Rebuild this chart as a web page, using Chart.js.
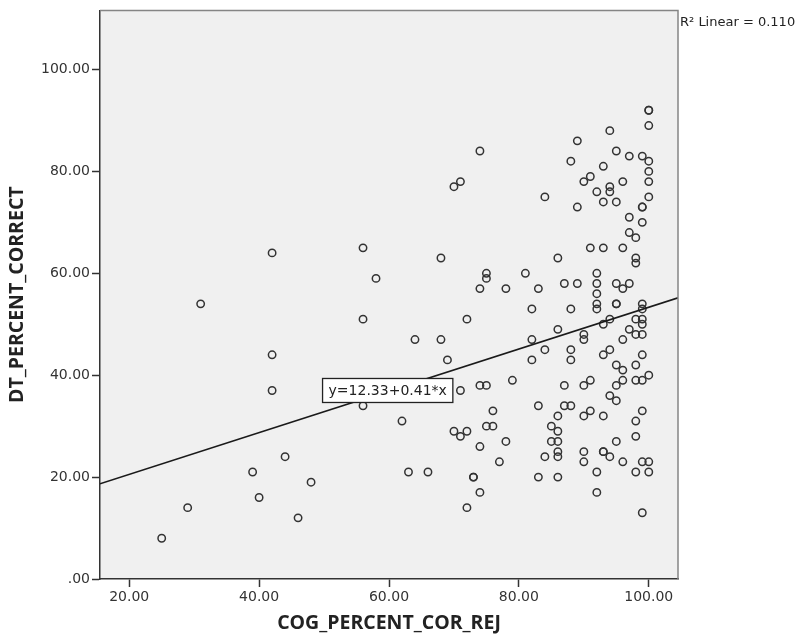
<!DOCTYPE html>
<html>
<head>
<meta charset="utf-8">
<script src="https://cdn.jsdelivr.net/npm/chart.js@4.4.1/dist/chart.umd.min.js"></script>
<style>
  html, body { margin: 0; padding: 0; background: #ffffff; }
  #wrap { width: 805px; height: 638px; }
</style>
</head>
<body>
<div id="wrap"><canvas id="c" width="805" height="638"></canvas></div>
<script>
// ---- data ----
const cogPercentCorRej = [
  25, 29, 31, 39, 40, 42, 42, 42, 44, 46, 48,
  56, 56, 56, 58, 62, 63, 64, 66, 68, 68, 69,
  70, 71, 70, 71, 71, 72, 72, 72, 73, 73,
  74, 74, 74, 74, 74, 75, 75, 75, 75, 76, 76, 77, 78, 78, 79,
  81, 82, 82, 82, 83, 83, 83, 84, 84, 84, 85, 85,
  86, 86, 86, 86, 86, 86, 86, 86, 87, 87, 87,
  88, 88, 88, 88, 88, 89, 89, 89,
  90, 90, 90, 90, 90, 90, 90, 91, 91, 91, 91,
  92, 92, 92, 92, 92, 92, 92, 92,
  93, 93, 93, 93, 93, 93, 93, 93,
  94, 94, 94, 94, 94, 94, 94,
  95, 95, 95, 95, 95, 95, 95, 95, 95,
  96, 96, 96, 96, 96, 96, 96,
  97, 97, 97, 97, 97,
  98, 98, 98, 98, 98, 98, 98, 98, 98, 98,
  99, 99, 99, 99, 99, 99, 99, 99, 99, 99, 99, 99, 99, 99,
  100, 100, 100, 100, 100, 100, 100, 100, 100, 100
];
const dtPercentCorrect = [
  8, 14, 54, 21, 16, 64, 44, 37, 24, 12, 19,
  65, 51, 34, 59, 31, 21, 47, 21, 63, 47, 43,
  77, 78, 29, 37, 28, 29, 51, 14, 20, 20,
  84, 57, 38, 26, 17, 60, 59, 38, 30, 33, 30, 23, 57, 27, 39,
  60, 53, 47, 43, 57, 34, 20, 75, 45, 24, 30, 27,
  63, 49, 32, 29, 27, 25, 24, 20, 58, 38, 34,
  82, 53, 45, 43, 34, 86, 73, 58,
  78, 48, 47, 38, 32, 25, 23, 79, 65, 39, 33,
  76, 60, 58, 56, 54, 53, 21, 17,
  81, 74, 65, 50, 44, 32, 25, 25,
  88, 77, 76, 51, 45, 36, 24,
  84, 74, 58, 54, 54, 42, 38, 35, 27,
  78, 65, 57, 47, 41, 39, 23,
  83, 71, 68, 58, 49,
  67, 63, 62, 51, 48, 42, 39, 31, 28, 21,
  83, 73, 73, 70, 54, 53, 51, 50, 48, 44, 39, 33, 23, 13,
  92, 92, 89, 82, 80, 78, 75, 40, 23, 21
];
// fit line shown in the reference: y = 12.33 + 0.41*x, R² = 0.110
const fitIntercept = 12.33;
const fitSlope = 0.41;
const fitLabel = 'y=12.33+0.41*x';
const fitLabelAt = [59.8, 37];          // data position of the label box centre
const r2Label = 'R\u00B2 Linear = 0.110';
// axes
const xRange = [15.5, 104.5];
const yRange = [0, 111.6];
const xTickValues = [20, 40, 60, 80, 100];
const xTickLabels = ['20.00', '40.00', '60.00', '80.00', '100.00'];
const yTickValues = [0, 20, 40, 60, 80, 100];
const yTickLabels = ['.00', '20.00', '40.00', '60.00', '80.00', '100.00'];
const xTitle = 'COG_PERCENT_COR_REJ';
const yTitle = 'DT_PERCENT_CORRECT';

// ---- build chart ----
const points = cogPercentCorRej.map((x, i) => ({ x: x, y: dtPercentCorrect[i] }));
const fitPoints = xRange.map(x => ({ x: x, y: fitIntercept + fitSlope * x }));

const tickFont = { family: 'DejaVu Sans', size: 14 };
const titleFont = { family: 'Open Sans', size: 19.5, weight: 'bold' };

const decor = {
  id: 'decor',
  beforeDraw(chart) {
    const { ctx, chartArea: a } = chart;
    ctx.save();
    ctx.fillStyle = '#f0f0f0';
    ctx.fillRect(a.left, a.top, a.right - a.left, a.bottom - a.top);
    ctx.restore();
  },
  afterDatasetsDraw(chart) {
    const { ctx, chartArea: a, scales } = chart;
    ctx.save();
    // top and right frame
    ctx.strokeStyle = '#858585';
    ctx.lineWidth = 1.5;
    ctx.beginPath();
    ctx.moveTo(a.left, a.top);
    ctx.lineTo(a.right, a.top);
    ctx.lineTo(a.right, a.bottom);
    ctx.stroke();
    // fit label box
    ctx.font = '14px "DejaVu Sans"';
    const tw = ctx.measureText(fitLabel).width;
    const cx = scales.x.getPixelForValue(fitLabelAt[0]);
    const cy = scales.y.getPixelForValue(fitLabelAt[1]);
    const bw = tw + 12, bh = 24;
    ctx.fillStyle = '#ffffff';
    ctx.fillRect(cx - bw / 2, cy - bh / 2, bw, bh);
    ctx.strokeStyle = '#222222';
    ctx.lineWidth = 1.3;
    ctx.strokeRect(cx - bw / 2, cy - bh / 2, bw, bh);
    ctx.fillStyle = '#222222';
    ctx.textAlign = 'center';
    ctx.textBaseline = 'middle';
    ctx.fillText(fitLabel, cx, cy + 1);
    // R² text
    ctx.font = '13px "DejaVu Sans"';
    ctx.textAlign = 'left';
    ctx.fillStyle = '#222222';
    ctx.fillText(r2Label, a.right + 2, a.top + 12);
    ctx.restore();
  }
};

new Chart(document.getElementById('c'), {
  type: 'scatter',
  data: {
    datasets: [
      {
        type: 'line',
        data: fitPoints,
        borderColor: '#1a1a1a',
        borderWidth: 1.6,
        pointRadius: 0,
        fill: false,
        tension: 0
      },
      {
        data: points,
        pointStyle: 'circle',
        pointRadius: 3.7,
        pointBorderWidth: 1.5,
        borderColor: '#333333',
        backgroundColor: 'rgba(0,0,0,0)'
      }
    ]
  },
  options: {
    responsive: false,
    animation: false,
    devicePixelRatio: 1,
    layout: { padding: { left: 0, top: 8, right: 127, bottom: 0 } },
    plugins: { legend: { display: false }, tooltip: { enabled: false } },
    scales: {
      x: {
        type: 'linear',
        min: xRange[0], max: xRange[1],
        afterFit(s) { s.height = 59; },
        afterBuildTicks(s) { s.ticks = xTickValues.map(v => ({ value: v })); },
        ticks: {
          font: tickFont, color: '#333333', padding: 2,
          callback(v) { const i = xTickValues.indexOf(v); return i >= 0 ? xTickLabels[i] : ''; }
        },
        grid: { drawOnChartArea: false, drawTicks: true, tickLength: 8, tickColor: '#333333', tickWidth: 1.5 },
        border: { display: true, color: '#333333', width: 1.5 },
        title: { display: true, text: xTitle, font: titleFont, color: '#222222', padding: { top: 0, bottom: 3 } }
      },
      y: {
        type: 'linear',
        min: yRange[0], max: yRange[1],
        afterFit(s) { s.width = 100; },
        afterBuildTicks(s) { s.ticks = yTickValues.map(v => ({ value: v })); },
        ticks: {
          font: tickFont, color: '#333333', padding: 2,
          callback(v) { const i = yTickValues.indexOf(v); return i >= 0 ? yTickLabels[i] : ''; }
        },
        grid: { drawOnChartArea: false, drawTicks: true, tickLength: 8, tickColor: '#333333', tickWidth: 1.5 },
        border: { display: true, color: '#333333', width: 1.5 },
        title: { display: true, text: yTitle, font: titleFont, color: '#222222', padding: { top: 6, bottom: 0 } }
      }
    }
  },
  plugins: [decor]
});
</script>
</body>
</html>
